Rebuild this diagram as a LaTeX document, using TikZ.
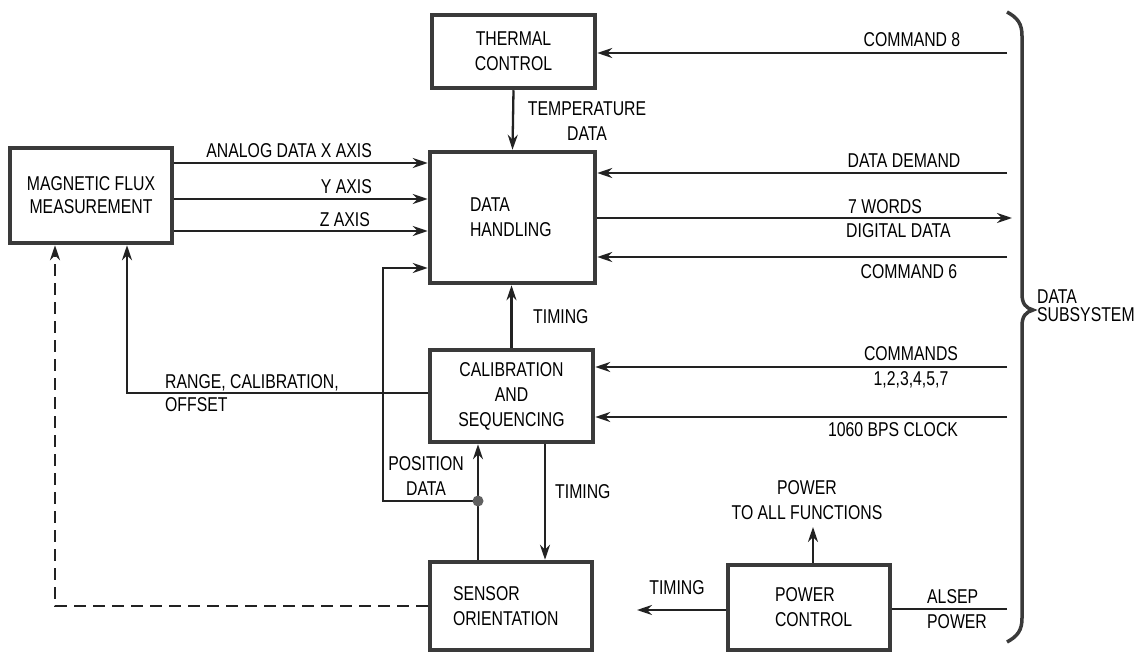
\documentclass[tikz,border=0pt]{standalone}
\usepackage{fontspec}
\setmainfont{Liberation Sans}[FakeStretch=0.79]
\usetikzlibrary{arrows.meta}
\newcommand\myfont{\fontsize{20}{25}\selectfont}
\definecolor{boxc}{HTML}{3A3A3A}
\definecolor{linec}{HTML}{222222}
\begin{document}
\begin{tikzpicture}[x=1pt,y=-1pt,
  box/.style={draw=boxc, line width=4.5pt, inner sep=0pt, align=center, font=\myfont},
  lbl/.style={inner sep=0pt, align=center, font=\myfont},
  conn/.style={line width=2.3pt, draw=linec},
  arr/.style={conn, -{Stealth[length=15pt,width=10pt,inset=5pt]}},
  dashline/.style={conn, dash pattern=on 12pt off 7pt}]
\fill[white] (0,0) rectangle (1136,655);
\useasboundingbox (0,0) rectangle (1136,655);

% boxes
\node[box, minimum width=163pt, minimum height=73pt] (thermal) at (513.5,51.5) {THERMAL\\CONTROL};
\node[box, minimum width=165pt, minimum height=131pt, text width=85pt, align=left] (dh) at (512.5,217.5) {DATA\\HANDLING};
\node[box, minimum width=162pt, minimum height=95pt] (mag) at (91,195.5) {MAGNETIC FLUX\\[-2pt]MEASUREMENT};
\node[box, minimum width=163pt, minimum height=92pt] (cal) at (511.5,396) {CALIBRATION\\AND\\SEQUENCING};
\node[box, minimum width=162pt, minimum height=88pt, text width=116pt, align=left] (sens) at (511,606) {SENSOR\\ORIENTATION};
\node[box, minimum width=162pt, minimum height=85pt, text width=68pt, align=left] (power) at (809,607.5) {POWER\\CONTROL};

% coordinates at the data subsystem side
\coordinate (c8) at (1007,53);
\coordinate (dd) at (1007,173);
\coordinate (dw) at (1012,218);
\coordinate (c6) at (1007,257);
\coordinate (cm) at (1007,367);
\coordinate (clk) at (1007,417);
\coordinate (alsep) at (1007,609);
\coordinate (jn) at (478,501);
\coordinate (pt) at (637,610);
\coordinate (pu) at (813,527);

% connectors right side
\draw[arr] (c8) -- (c8 -| thermal.east);
\draw[arr] (dd) -- (dd -| dh.east);
\draw[arr] (dh.east |- dw) -- (dw);
\draw[arr] (c6) -- (c6 -| dh.east);
\draw[arr] (cm) -- (cm -| cal.east);
\draw[arr] (clk) -- (clk -| cal.east);
\draw[conn] (alsep) -- (alsep -| power.east);

% thermal to data handling
\draw[arr] (thermal.south) -- (dh.north);

% analog lines
\draw[arr] (mag.east |- 0,163) -- (dh.west |- 0,163);
\draw[arr] (mag.east |- 0,199) -- (dh.west |- 0,199);
\draw[arr] (mag.east |- 0,231) -- (dh.west |- 0,231);

% timing calibration -> data handling
\draw[arr] (cal.north) -- (cal.north |- dh.south);
% timing calibration -> sensor
\draw[arr] (cal.south -| 545,0) -- (sens.north -| 545,0);
% position data
\draw[arr] (sens.north -| jn) -- (cal.south -| jn);
\draw[arr] (jn) -- (383,501) -- (383,268) -- (dh.west |- 0,268);
\fill[boxc!80] (jn) circle (5.5pt);
% range, calibration, offset
\draw[arr] (cal.west |- 0,393) -- (127,393) -- (mag.south -| 127,0);
% sensor positioning (dashed)
\draw[dashline, -{Stealth[length=15pt,width=10pt,inset=5pt]}] (sens.west) -- (55,606) -- (mag.south -| 55,0);
% power
\draw[arr] (power.west |- pt) -- (pt);
\draw[arr] (power.north -| pu) -- (pu);

% brace
\draw[line width=3.5pt, draw=boxc] (1007,12) .. controls (1018,18) and (1022,24) .. (1022,36) -- (1022,294)
  .. controls (1022,304) and (1026,308) .. (1033,310) .. controls (1026,312) and (1022,316) .. (1022,326)
  -- (1022,618) .. controls (1022,630) and (1018,636) .. (1007,642);

% labels
\node[lbl] (l8) at (912,39.5) {COMMAND 8};
\node[lbl] (ltemp) at (587,121) {TEMPERATURE\\DATA};
\node[lbl] (ldd) at (904,161) {DATA DEMAND};
\node[lbl, anchor=west] (l7w) at (848,207) {7 WORDS};
\node[lbl, anchor=west] (ldig) at (846,231) {DIGITAL DATA};
\node[lbl] (l6) at (909,272) {COMMAND 6};
\node[lbl, anchor=west, align=left] (lsub) at (1037,306) {DATA\\[-7pt]SUBSYSTEM};
\node[lbl, anchor=east] (lx) at (372,151) {ANALOG DATA X AXIS};
\node[lbl, anchor=east] (ly) at (372,187) {Y AXIS};
\node[lbl, anchor=east] (lz) at (370,220) {Z AXIS};
\node[lbl, anchor=west, align=left] (lrange) at (165,393.5) {RANGE, CALIBRATION,\\[-2pt]OFFSET};
\node[lbl, anchor=west] (lt1) at (533,317) {TIMING};
\node[lbl] (lcm) at (911,367) {COMMANDS\\1,2,3,4,5,7};
\node[lbl] (lclk) at (893,430) {1060 BPS CLOCK};
\node[lbl] (lpos) at (426,476.5) {POSITION\\DATA};
\node[lbl, anchor=west] (lt2) at (555,492) {TIMING};
\node[lbl] (lt3) at (677,588) {TIMING};
\node[lbl] (lpow) at (807,500.5) {POWER\\TO ALL FUNCTIONS};
\node[lbl, anchor=west, align=left] (lalsep) at (927,609.5) {ALSEP\\POWER};
\end{tikzpicture}
\end{document}
